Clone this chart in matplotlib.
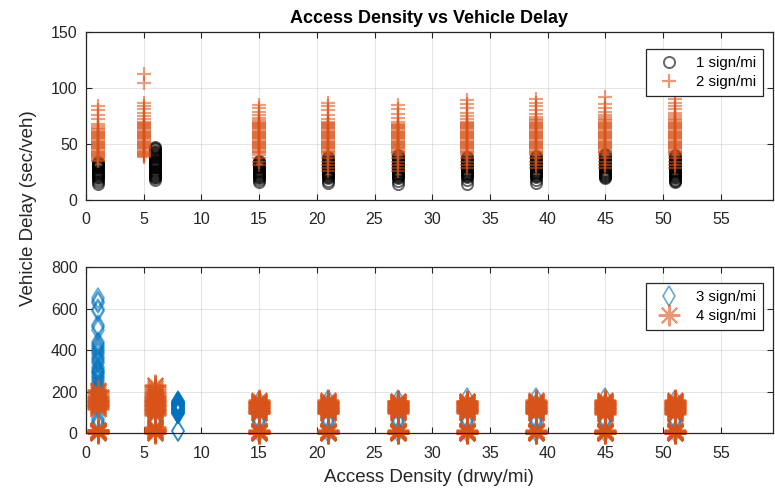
import numpy as np
import matplotlib
matplotlib.use('Agg')
import matplotlib.pyplot as plt

plt.rcParams['font.family'] = ['Liberation Sans', 'DejaVu Sans']

# ***** data *****
# top panel: 1 sign/mi (circles) and 2 sign/mi (plus)
c1_x = [1, 6, 15, 21, 27, 33, 39, 45, 51]
c1_y = [
    [14, 16, 18, 19, 20, 21, 22, 23, 24, 25, 26, 27, 28, 29, 30, 31, 32, 33, 34],
    [18, 19, 20, 21, 22, 23, 24, 25, 26, 27, 28, 29, 30, 31, 32, 33, 34, 35, 36, 37, 38, 39, 40, 41, 42, 43, 44, 45, 46, 47],
    [16, 18, 19, 20, 21, 22, 23, 24, 25, 26, 27, 28, 29, 30, 31, 32, 33, 34, 35],
    [15, 17, 19, 20, 21, 22, 23, 24, 25, 26, 27, 28, 29, 30, 31, 32, 33, 34, 35, 36, 37, 38],
    [14, 17, 19, 20, 21, 22, 23, 24, 25, 26, 27, 28, 29, 30, 31, 32, 33, 34, 35, 36, 37, 38, 39, 40],
    [14, 18, 20, 21, 22, 23, 24, 25, 26, 27, 28, 29, 30, 31, 32, 33, 34, 35, 36, 37, 38],
    [15, 18, 20, 21, 22, 23, 24, 25, 26, 27, 28, 29, 30, 31, 32, 33, 34, 35, 36, 37, 38, 39],
    [19, 20, 21, 22, 23, 24, 25, 26, 27, 28, 29, 30, 31, 32, 33, 34, 35, 36, 37, 38, 39, 40, 41],
    [16, 17, 18, 19, 20, 21, 22, 23, 24, 25, 26, 27, 28, 29, 30, 31, 32, 33, 34, 35, 36, 37, 38, 39, 40],
]
p2_x = [1, 5, 15, 21, 27, 33, 39, 45, 51]
p2_y = [
    [84, 80, 76, 72, 68, 66, 64, 63, 62, 61, 60, 59, 58, 57, 56, 55, 54, 53, 52, 51, 50, 49, 48, 47, 46, 45, 44, 43, 42, 41, 40, 39, 38, 37, 36, 35],
    [113, 105, 87, 84, 81, 78, 75, 72, 70, 69, 68, 67, 66, 65, 64, 63, 62, 61, 60, 59, 58, 57, 56, 55, 54, 53, 52, 51, 50, 49, 48, 47, 46, 45, 44, 43, 42, 41, 40, 39, 38],
    [85, 82, 79, 76, 73, 71, 70, 69, 68, 67, 66, 65, 64, 63, 62, 61, 60, 59, 58, 57, 56, 55, 54, 53, 52, 51, 50, 49, 48, 47, 46, 45, 44, 43, 42, 40, 37, 34, 31],
    [87, 84, 80, 76, 72, 70, 69, 68, 67, 66, 65, 64, 63, 62, 61, 60, 59, 58, 57, 56, 55, 54, 53, 52, 51, 50, 49, 48, 47, 46, 45, 44, 43, 42, 40, 37, 34, 31, 28, 26],
    [85, 81, 77, 73, 70, 68, 67, 66, 65, 64, 63, 62, 61, 60, 59, 58, 57, 56, 55, 54, 53, 52, 51, 50, 49, 48, 47, 46, 45, 44, 43, 42, 40, 37, 34, 31, 28, 26],
    [89, 86, 82, 78, 75, 72, 70, 69, 68, 67, 66, 65, 64, 63, 62, 61, 60, 59, 58, 57, 56, 55, 54, 53, 52, 51, 50, 49, 48, 47, 46, 45, 44, 43, 42, 40, 37, 34, 31, 28],
    [90, 87, 84, 80, 77, 74, 72, 71, 70, 69, 68, 67, 66, 65, 64, 63, 62, 61, 60, 59, 58, 57, 56, 55, 54, 53, 52, 51, 50, 49, 48, 47, 46, 45, 44, 43, 42, 40, 37, 34, 31, 28],
    [92, 86, 82, 79, 76, 74, 72, 71, 70, 69, 68, 67, 66, 65, 64, 63, 62, 61, 60, 59, 58, 57, 56, 55, 54, 53, 52, 51, 50, 49, 48, 47, 46, 45, 44, 43, 42, 40, 37, 34, 31, 28],
    [90, 87, 84, 81, 78, 76, 74, 72, 71, 70, 69, 68, 67, 66, 65, 64, 63, 62, 61, 60, 59, 58, 57, 56, 55, 54, 53, 52, 51, 50, 49, 48, 47, 46, 45, 44, 43, 42, 40, 37, 34, 31, 28],
]

# bottom panel: 3 sign/mi (diamonds) and 4 sign/mi (asterisks)
d3_x = [1, 6, 8, 15, 21, 27, 33, 39, 45, 51]
d3_y = [
    [650, 640, 630, 600, 590, 520, 510, 500, 440, 430, 420, 410, 400, 390, 380, 370, 360, 350, 340, 320, 310, 300, 295, 290,
     280, 270, 260, 250, 240, 230, 220, 210, 200, 190, 170, 150, 130, 70, 60, 50, 40],
    [50, 60, 70],
    [10, 12, 95, 97, 99, 101, 103, 105, 107, 109, 111, 113, 115, 117, 119, 121, 123, 125, 127, 129, 131, 133, 135, 137,
     139, 141, 143, 145, 147, 149, 151, 153, 155],
    [5, 50, 60, 70, 110, 140, 155],
    [5, 50, 60, 70, 110, 140, 160],
    [5, 50, 60, 70, 110, 140, 160],
    [5, 50, 60, 70, 110, 140, 172],
    [5, 50, 60, 70, 110, 140, 168],
    [5, 50, 60, 70, 110, 140, 170],
    [5, 50, 60, 70, 110, 140, 160],
]
a4_x = [1, 6, 15, 21, 27, 33, 39, 45, 51]
a4_y = [
    [0, 2, 4, 6, 8, 10, 12, 14, 16, 18, 118, 122, 126, 130, 134, 138, 142, 146, 150, 154, 158, 162, 166, 170, 176, 182,
     190, 198, 205, 210],
    [0, 3, 6, 9, 12, 15, 18, 22, 26, 30, 90, 94, 98, 102, 106, 110, 114, 118, 122, 126, 130, 134, 138, 142, 146, 150, 154,
     158, 162, 166, 170, 175, 180, 186, 192, 200, 208, 218, 228, 235],
    [0, 1, 2, 3, 4, 5, 6, 8, 10, 12, 14, 96, 99, 102, 105, 108, 111, 114, 117, 120, 123, 126, 129, 132, 135, 138, 141,
     144, 147, 150, 153, 156, 160],
    [0, 1, 2, 3, 4, 5, 6, 8, 10, 12, 14, 96, 99, 102, 105, 108, 111, 114, 117, 120, 123, 126, 129, 132, 135, 138, 141,
     144, 147, 150, 153, 156, 160],
    [0, 1, 2, 3, 4, 5, 6, 8, 10, 12, 14, 98, 101, 104, 107, 110, 113, 116, 119, 122, 125, 128, 131, 134, 137, 140, 143,
     146, 149, 152, 155, 158],
    [0, 1, 2, 3, 4, 5, 6, 8, 10, 12, 14, 98, 101, 104, 107, 110, 113, 116, 119, 122, 125, 128, 131, 134, 137, 140, 143,
     146, 149, 152, 155, 158],
    [0, 1, 2, 3, 4, 5, 6, 8, 10, 12, 14, 96, 99, 102, 105, 108, 111, 114, 117, 120, 123, 126, 129, 132, 135, 138, 141,
     144, 147, 150, 153, 156, 160],
    [0, 1, 2, 3, 4, 5, 6, 8, 10, 12, 14, 94, 97, 100, 103, 106, 109, 112, 115, 118, 121, 124, 127, 130, 133, 136, 139,
     142, 145, 148, 151, 154, 158, 162],
    [0, 1, 2, 3, 4, 5, 6, 8, 10, 12, 14, 94, 97, 100, 103, 106, 109, 112, 115, 118, 121, 124, 127, 130, 133, 136, 139,
     142, 145, 148, 151, 154, 158, 162],
]

x_ticks = [0, 5, 10, 15, 20, 25, 30, 35, 40, 45, 50, 55]
top_yticks = [0, 50, 100, 150]
bot_yticks = [0, 200, 400, 600, 800]

ORANGE = '#D95319'
BLUE = '#0072BD'
AXC = '#262626'


def flatten(xs, ys):
    px, py = [], []
    for x, col in zip(xs, ys):
        px += [x] * len(col)
        py += col
    return px, py


fig = plt.figure(figsize=(7.75, 4.93), dpi=100)
ax1 = fig.add_axes([86/775, 1-199.7/493, 686.7/775, 167.4/493])
ax2 = fig.add_axes([86/775, 1-433.3/493, 686.7/775, 166/493])

x, y = flatten(c1_x, c1_y)
ax1.plot(x, y, 'o', ls='none', mfc='none', mec='black', ms=8, mew=1.4, alpha=0.6,
         label='1 sign/mi', clip_on=False)
x, y = flatten(p2_x, p2_y)
ax1.plot(x, y, '+', ls='none', color=ORANGE, ms=10.5, mew=1.6, alpha=0.55,
         label='2 sign/mi', clip_on=False)

x, y = flatten(d3_x, d3_y)
ax2.plot(x, y, 'd', ls='none', mfc='none', mec=BLUE, ms=10, mew=1.2, alpha=0.6,
         label='3 sign/mi', clip_on=False)
x, y = flatten(a4_x, a4_y)
ax2.plot(x, y, marker=(8, 2, 0), ls='none', color=ORANGE, ms=15.5, mew=1.5, alpha=0.6,
         label='4 sign/mi', clip_on=False)

for ax, yt in ((ax1, top_yticks), (ax2, bot_yticks)):
    ax.set_xlim(0, 59.5)
    ax.set_ylim(yt[0], yt[-1])
    ax.set_xticks(x_ticks)
    ax.set_yticks(yt)
    ax.grid(True, color=AXC, alpha=0.14, lw=0.6)
    ax.set_axisbelow(True)
    ax.tick_params(direction='in', top=True, right=True, length=4, width=0.8,
                   colors=AXC, labelsize=11.5)
    ax.tick_params(axis='x', pad=9)
    ax.tick_params(axis='y', pad=6)
    for s in ax.spines.values():
        s.set_color(AXC)
        s.set_linewidth(0.9)
    leg = ax.legend(loc='upper right', fontsize=10.8, fancybox=False, framealpha=1,
                    edgecolor=AXC, borderpad=0.45, handletextpad=0.7,
                    handlelength=2.2, labelspacing=0.35, borderaxespad=0)
    leg.get_frame().set_linewidth(0.9)
    for h in leg.legend_handles:
        h.set_alpha(0.6)

ax1.get_legend().set_bbox_to_anchor((0.986, 0.90))
ax2.get_legend().set_bbox_to_anchor((0.986, 0.905))

ax1.set_title('Access Density vs Vehicle Delay', fontsize=13, fontweight='bold', pad=7)
ax2.set_xlabel('Access Density (drwy/mi)', fontsize=13.5, color=AXC, labelpad=6)
fig.text(0.037, 1 - 208.5/493, 'Vehicle Delay (sec/veh)', rotation=90, fontsize=13.5,
         color=AXC, ha='center', va='center')

fig.savefig('out.png', dpi=100)
